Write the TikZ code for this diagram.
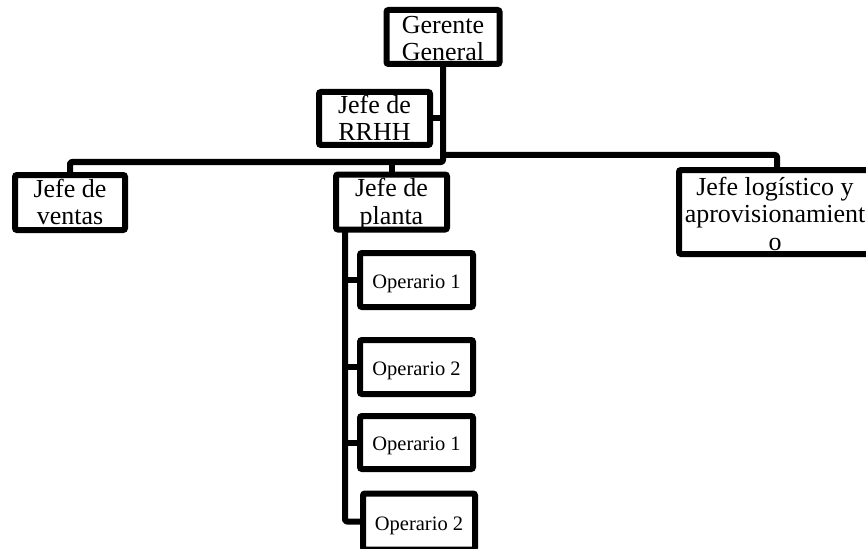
\documentclass[tikz,border=0pt]{standalone}
\usepackage{fontspec}
\setmainfont{Liberation Serif}
\usetikzlibrary{backgrounds}
% centred lines of box text; the first baseline sits #1 above the box centre
\newcommand\boxlines[2]{\raisebox{#1}[0pt][0pt]{\begin{tabular}[t]{@{}c@{}}#2\end{tabular}}}
% one line of text whose baseline sits #1 below the box centre
\newcommand\boxline[2]{\raisebox{-#1}[0pt][0pt]{#2}}
\begin{document}
\begin{tikzpicture}[x=1pt,y=-1pt,
  box/.style={draw=black,line width=6pt,rounded corners=2pt,fill=white,
    inner sep=0pt,font=\fontsize{26}{27.5}\selectfont},
  opbox/.style={box,minimum width=113pt,minimum height=54pt,
    font=\fontsize{20.5}{23}\selectfont},
  link/.style={draw=black,line width=6pt,line join=round,rounded corners=2pt}]
\useasboundingbox (0,0) rectangle (866,548);

% boxes
\node[box,minimum width=113pt,minimum height=54pt] (gg) at (443,37) {\boxlines{3.5pt}{Gerente\\General}};
\node[box,minimum width=111pt,minimum height=53pt] (rrhh) at (374.5,118.5) {\boxlines{5pt}{Jefe de\\RRHH}};
\node[box,minimum width=110pt,minimum height=55pt] (ventas) at (70,202.5) {\boxlines{5.5pt}{Jefe de\\ventas}};
\node[box,minimum width=111pt,minimum height=55pt] (planta) at (391.5,202) {\boxlines{5.5pt}{Jefe de\\planta}};
\node[box,minimum width=192pt,minimum height=84pt] (logis) at (775,212) {\boxlines{17pt}{Jefe logístico y\\aprovisionamient\\o}};
\node[opbox] (op1) at (416.5,280) {\boxline{8pt}{Operario 1}};
\node[opbox] (op2) at (416.5,367) {\boxline{8pt}{Operario 2}};
\node[opbox,minimum height=53pt] (op3) at (416.5,442.5) {\boxline{7.5pt}{Operario 1}};
\node[opbox,minimum width=112pt,minimum height=56pt] (op4) at (419,521.5) {\boxline{8.5pt}{Operario 2}};

% junction points of the branches
\coordinate (jp) at (392,162);
\coordinate (jl) at (777,155);
\coordinate (sp) at (345,231);

% connectors, kept behind the boxes
\begin{scope}[on background layer]
\draw[link] (gg.south) -- (gg.south |- jp) -- (jp -| ventas.north) -- (ventas.north);
\draw[link] (rrhh.east) -- (rrhh.east -| gg.south);
\draw[link] (gg.south |- jl) -- (jl) -- (jl |- logis.north);
\draw[link] (jp) -- (jp |- planta.north);
\draw[link] (sp) -- (sp |- op4.west) -- (op4.west);
\draw[link] (sp |- op1.west) -- (op1.west);
\draw[link] (sp |- op2.west) -- (op2.west);
\draw[link] (sp |- op3.west) -- (op3.west);
\end{scope}
\end{tikzpicture}
\end{document}
